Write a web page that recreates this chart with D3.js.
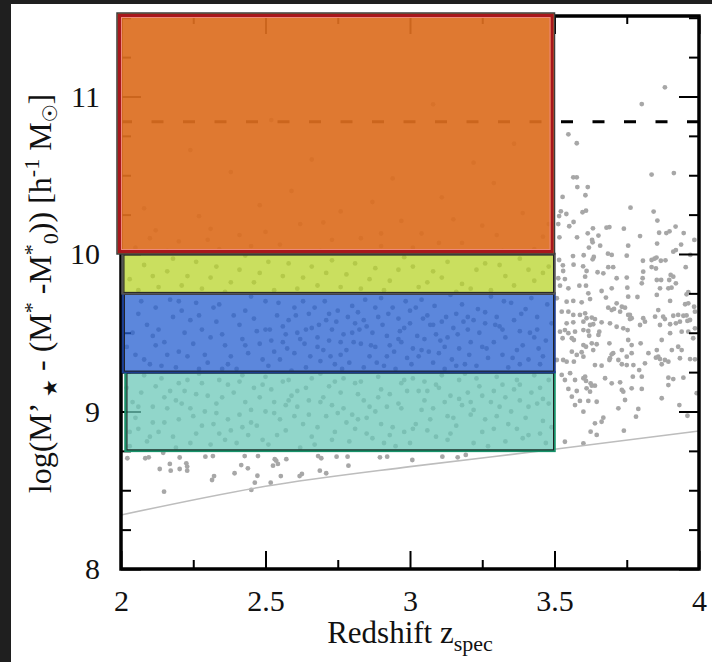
<!DOCTYPE html>
<html><head><meta charset="utf-8">
<script src="https://cdn.jsdelivr.net/npm/d3@7"></script>
<style>html,body{margin:0;padding:0;background:#1f1f1f;} svg{display:block}</style>
</head><body>
<svg id="c" width="712" height="662"></svg>
<script>
// ---------- data ----------
const xDomain = [2, 4];
const yDomain = [8, 11.511];
const xMajorTicks = [2, 2.5, 3, 3.5, 4];
const xTickLabels = ["2", "2.5", "3", "3.5", "4"];
const xMinorTicks = [2.25, 2.75, 3.25, 3.75];
const yMajorTicks = [8, 9, 10, 11];
const yTickLabels = ["8", "9", "10", "11"];
const yMinorTicks = [8.25, 8.5, 8.75, 9.25, 9.5, 9.75, 10.25, 10.5, 10.75, 11.25, 11.5];

// mass bins (z range common)
const binZ = [2, 3.5];
const binLo = [8.75, 9.25, 9.75, 10.0];
const binHi = [9.25, 9.75, 10.0, 11.53];

// characteristic mass (dashed) and completeness limit curve
const dashedLevel = 10.84;
const limitZ = [2, 2.5, 3, 3.5, 4];
const limitM = [8.343, 8.525, 8.65, 8.76, 8.876];

// galaxies visible outside the boxes
const galaxiesOutside = [
[3.882,11.058],[3.802,10.952],[3.548,10.76],[3.577,10.703],[3.565,10.487],[3.577,10.487],[3.836,10.504],[3.913,10.514],[3.579,10.425],[3.615,10.425],[3.528,10.362],[3.607,10.373],[3.763,10.294],[3.522,10.271],[3.516,10.241],[3.541,10.254],[3.597,10.265],[3.609,10.275],[3.843,10.269],[3.856,10.212],[3.513,10.19],[3.551,10.176],[3.566,10.203],[3.633,10.163],[3.680,10.167],[3.690,10.171],[3.740,10.161],[3.919,10.174],[3.517,10.106],[3.578,10.106],[3.615,10.131],[3.652,10.117],[3.630,10.089],[3.632,10.074],[3.796,10.114],[3.862,10.135],[3.887,10.133],[3.898,10.144],[3.947,10.133],[3.984,10.089],[3.658,10.053],[3.755,10.053],[3.855,10.066],[3.938,10.06],[3.619,10.041],[3.911,10.015],[3.920,10.025],[3.564,9.987],[3.601,9.992],[3.636,9.981],[3.632,9.966],[3.685,10.002],[3.698,9.994],[3.750,9.989],[3.806,9.957],[3.836,9.962],[3.846,9.970],[3.853,9.977],[3.868,9.957],[3.884,9.960],[3.970,9.994],[3.516,9.962],[3.529,9.928],[3.566,9.932],[3.599,9.922],[3.686,9.916],[3.703,9.916],[3.954,9.916],
[3.836,9.917],[3.851,9.908],[3.530,9.892],[3.611,9.892],[3.649,9.884],[3.669,9.877],[3.807,9.888],[3.911,9.856],[3.902,9.867],[3.513,9.846],[3.536,9.841],[3.606,9.856],[3.715,9.846],[3.750,9.850],[3.805,9.846],[3.854,9.835],[3.869,9.835],[3.897,9.835],[3.920,9.814],[3.894,9.782],[3.905,9.786],[3.519,9.799],[3.548,9.782],[3.586,9.799],[3.609,9.799],[3.617,9.750],[3.623,9.714],[3.663,9.765],[3.698,9.782],[3.752,9.786],[3.802,9.814],[3.755,9.729],[3.787,9.727],[3.854,9.740],[3.865,9.782],[3.963,9.757],[3.957,9.744],
[3.508,9.719],[3.542,9.697],[3.565,9.702],[3.594,9.693],[3.678,9.723],[3.715,9.687],[3.733,9.665],[3.744,9.659],[3.761,9.613],[3.767,9.592],[3.807,9.592],[3.859,9.644],[3.900,9.702],[3.952,9.681],[3.963,9.687],[3.983,9.665],[3.525,9.634],[3.548,9.634],[3.565,9.613],[3.588,9.613],[3.606,9.623],[3.629,9.596],[3.640,9.587],[3.686,9.659],[3.698,9.644],[3.706,9.651],[3.727,9.634],[3.755,9.613],[3.761,9.587],[3.848,9.602],[3.876,9.602],[3.882,9.587],[3.911,9.608],[3.928,9.613],[3.946,9.608],[3.957,9.610],[3.969,9.581],[3.986,9.634],
[3.542,9.560],[3.565,9.566],[3.600,9.570],[3.611,9.592],[3.623,9.549],[3.634,9.554],[3.663,9.566],[3.692,9.560],[3.715,9.538],[3.738,9.528],[3.753,9.517],[3.796,9.549],[3.813,9.570],[3.865,9.549],[3.900,9.554],[3.920,9.560],[3.934,9.570],[3.960,9.575],[3.963,9.507],[3.986,9.528],[3.519,9.507],[3.536,9.517],[3.548,9.497],[3.571,9.507],[3.600,9.517],[3.617,9.511],[3.620,9.481],[3.652,9.486],[3.655,9.507],[3.755,9.454],[3.767,9.422],[3.798,9.433],[3.871,9.454],[3.900,9.497],[3.940,9.507],
[3.528,9.465],[3.560,9.465],[3.567,9.454],[3.600,9.422],[3.609,9.411],[3.629,9.433],[3.634,9.390],[3.646,9.427],[3.690,9.433],[3.703,9.370],[3.733,9.390],[3.750,9.348],[3.767,9.370],[3.825,9.370],[3.854,9.390],[3.859,9.348],[3.882,9.327],[3.906,9.390],[3.928,9.411],[3.940,9.390],[3.980,9.465],[3.560,9.380],[3.577,9.359],[3.594,9.376],[3.600,9.348],[3.698,9.363],[3.692,9.338],[3.721,9.327],[3.733,9.300],[3.750,9.295],[3.793,9.263],[3.813,9.306],[3.851,9.342],[3.865,9.333],[3.871,9.300],[3.894,9.316],[3.934,9.338],[3.969,9.333],[3.986,9.331],
[3.508,9.327],[3.530,9.327],[3.542,9.316],[3.567,9.316],[3.640,9.295],[3.663,9.291],[3.690,9.327],[3.773,9.295],[3.525,9.232],[3.536,9.200],[3.554,9.243],[3.571,9.200],[3.600,9.211],[3.606,9.221],[3.609,9.194],[3.625,9.179],[3.640,9.164],[3.675,9.211],[3.698,9.179],[3.727,9.185],[3.733,9.137],[3.738,9.126],[3.744,9.073],[3.767,9.147],[3.771,9.221],[3.802,9.143],[3.802,9.221],[3.894,9.215],[3.911,9.206],[3.894,9.168],[3.946,9.215],[3.548,9.143],[3.577,9.130],[3.611,9.147],[3.623,9.126],[3.629,9.164],
[3.560,9.094],[3.588,9.067],[3.600,8.999],[3.571,9.041],[3.617,9.067],[3.646,9.062],[3.721,9.020],[3.790,9.016],[3.782,8.967],[3.669,8.961],[3.663,8.935],[3.640,8.925],[3.625,8.872],[3.646,8.851],[3.740,8.878],[3.871,9.084],[3.932,9.041],[3.960,8.973],[3.992,9.116],[3.536,8.808],[3.600,8.798],
[2.022,8.703],[2.084,8.703],[2.096,8.709],[2.146,8.738],[2.203,8.708],[2.292,8.713],[2.318,8.717],[2.428,8.717],[2.474,8.717],[2.532,8.697],[2.572,8.697],[2.682,8.717],[2.693,8.703],[2.746,8.713],[2.784,8.713],[2.787,8.656],[2.896,8.709],[2.921,8.713],[3.008,8.692],[3.112,8.713],[3.165,8.709],[3.193,8.724],
[2.134,8.635],[2.169,8.667],[2.172,8.624],[2.203,8.635],[2.226,8.671],[2.229,8.650],[2.229,8.624],[2.416,8.660],[2.439,8.639],[2.526,8.656],[2.543,8.667],[2.537,8.688],[2.688,8.624],[2.710,8.608],[2.626,8.603],[2.618,8.590],[2.553,8.590],[2.472,8.592],[2.393,8.608],[2.322,8.590],[2.315,8.565],[2.463,8.548],[2.518,8.548],[2.451,8.502],[2.149,8.491]
];

// galaxies seen through the translucent boxes (estimated)
const galaxiesInside = [
[2.03,8.78],[2.07,9.12],[2.11,8.93],[2.14,9.21],[2.18,8.84],[2.21,9.05],[2.25,8.97],[2.28,9.18],[2.31,8.79],[2.35,9.09],[2.38,8.88],[2.42,9.23],[2.45,9.01],[2.49,8.82],[2.52,9.14],[2.55,8.95],[2.58,9.2],[2.62,8.77],[2.65,9.07],[2.68,8.9],[2.72,9.16],[2.75,8.99],[2.79,8.81],[2.82,9.11],[2.85,8.86],[2.89,9.22],[2.92,9.03],[2.95,8.78],[2.99,9.13],[3.02,8.92],[3.05,9.19],[3.09,8.84],[3.12,9.06],[3.15,8.96],[3.19,9.24],[3.22,8.8],[3.25,9.1],[3.29,8.89],[3.32,9.17],[3.35,9.0],[3.39,8.83],[3.42,9.12],[3.46,8.94],[3.48,9.2],
[2.05,8.96],[2.09,8.81],[2.12,9.16],[2.16,9.02],[2.19,8.77],[2.23,9.2],[2.26,8.86],[2.3,9.1],[2.33,8.99],[2.37,9.17],[2.4,8.8],[2.43,9.06],[2.47,8.91],[2.5,9.22],[2.54,8.85],[2.57,9.04],[2.6,8.97],[2.64,9.15],[2.67,8.79],[2.7,9.09],[2.74,8.87],[2.77,9.21],[2.8,8.98],[2.84,9.07],[2.87,8.83],[2.9,9.14],[2.94,8.9],[2.97,9.18],[3.0,8.8],[3.04,9.01],[3.07,8.95],[3.11,9.23],[3.14,8.86],[3.17,9.08],[3.21,8.98],[3.24,9.16],[3.27,8.78],[3.31,9.03],[3.34,8.92],[3.37,9.2],[3.41,8.85],[3.44,9.05],[3.47,8.8],
[2.04,9.06],[2.08,9.23],[2.13,8.87],[2.17,9.13],[2.2,8.95],[2.24,8.8],[2.29,9.0],[2.34,9.2],[2.39,9.12],[2.44,8.85],[2.48,9.09],[2.53,8.99],[2.59,9.1],[2.63,8.92],[2.69,9.24],[2.73,9.04],[2.78,8.93],[2.83,9.19],[2.88,9.0],[2.93,9.11],[2.98,8.87],[3.03,9.13],[3.08,9.02],[3.13,8.82],[3.18,9.04],[3.23,9.21],[3.28,9.06],[3.33,8.81],[3.38,9.07],[3.43,9.23],[3.49,8.9],
[2.06,8.89],[2.15,8.93],[2.22,9.13],[2.27,9.24],[2.32,8.92],[2.36,8.82],[2.41,8.98],[2.46,9.15],[2.51,8.79],[2.56,9.19],[2.61,9.03],[2.66,8.84],[2.71,8.97],[2.76,9.12],[2.81,8.89],[2.86,9.03],[2.91,8.8],[2.96,9.05],[3.01,9.21],[3.06,8.88],[3.1,9.15],[3.16,8.91],[3.2,9.12],[3.26,8.95],[3.3,9.22],[3.36,9.14],[3.4,8.96],[3.45,9.15],
[2.02,9.15],[2.06,9.03],[2.1,8.84],[2.15,9.09],[2.2,9.18],[2.24,9.02],[2.28,8.91],[2.33,9.05],[2.37,8.95],[2.41,9.19],[2.45,8.93],[2.49,9.17],[2.53,9.06],[2.57,8.88],[2.61,9.13],[2.65,8.98],[2.69,9.06],[2.73,8.82],[2.77,9.02],[2.81,9.18],[2.85,8.96],[2.89,9.09],[2.93,8.85],[2.97,9.02],[3.01,8.89],[3.05,9.07],[3.09,9.17],[3.13,8.97],[3.17,9.2],[3.21,9.06],[3.25,8.87],[3.29,9.13],[3.33,9.09],[3.37,8.89],[3.41,9.03],[3.45,8.86],[3.48,9.05],
[2.03,8.87],[2.11,9.03],[2.19,9.07],[2.26,9.11],[2.34,8.86],[2.42,8.9],[2.5,9.0],[2.58,9.07],[2.66,9.21],[2.74,9.19],[2.82,8.95],[2.9,8.92],[2.98,9.2],[3.06,9.13],[3.14,9.1],[3.22,9.01],[3.3,8.97],[3.38,9.17],[3.46,9.08],
[2.02,9.41],[2.06,9.62],[2.1,9.3],[2.13,9.52],[2.17,9.71],[2.2,9.38],[2.24,9.58],[2.27,9.27],[2.31,9.47],[2.34,9.68],[2.38,9.35],[2.41,9.55],[2.45,9.73],[2.48,9.43],[2.51,9.29],[2.54,9.61],[2.57,9.49],[2.6,9.37],[2.63,9.7],[2.66,9.53],[2.69,9.32],[2.72,9.45],[2.75,9.64],[2.78,9.39],[2.81,9.56],[2.84,9.28],[2.87,9.5],[2.9,9.72],[2.93,9.42],[2.96,9.59],[2.99,9.34],[3.02,9.66],[3.05,9.46],[3.08,9.31],[3.11,9.57],[3.14,9.74],[3.17,9.4],[3.2,9.52],[3.23,9.29],[3.26,9.63],[3.29,9.44],[3.32,9.36],[3.35,9.69],[3.38,9.51],[3.41,9.33],[3.44,9.6],[3.47,9.45],
[2.04,9.5],[2.08,9.33],[2.12,9.66],[2.15,9.44],[2.19,9.28],[2.22,9.5],[2.26,9.69],[2.29,9.36],[2.33,9.57],[2.36,9.42],[2.4,9.27],[2.43,9.64],[2.47,9.51],[2.5,9.7],[2.53,9.38],[2.56,9.54],[2.59,9.26],[2.62,9.46],[2.65,9.62],[2.68,9.41],[2.71,9.58],[2.74,9.3],[2.77,9.49],[2.8,9.67],[2.83,9.43],[2.86,9.35],[2.89,9.6],[2.92,9.48],[2.95,9.27],[2.98,9.53],[3.01,9.4],[3.04,9.71],[3.07,9.55],[3.1,9.37],[3.13,9.47],[3.16,9.62],[3.19,9.3],[3.22,9.58],[3.25,9.41],[3.28,9.73],[3.31,9.54],[3.34,9.28],[3.37,9.39],[3.4,9.65],[3.43,9.47],[3.46,9.35],[3.49,9.56],
[2.52,9.45],[2.55,9.33],[2.58,9.58],[2.61,9.5],[2.64,9.28],[2.67,9.66],[2.7,9.39],[2.73,9.52],[2.76,9.44],[2.79,9.31],[2.82,9.63],[2.85,9.54],[2.88,9.41],[2.91,9.29],[2.94,9.66],[2.97,9.44],[3.0,9.56],[3.03,9.35],[3.06,9.61],[3.09,9.49],[3.12,9.27],[3.15,9.53],[3.18,9.68],[3.21,9.44],[2.44,9.37],[2.39,9.61],[2.35,9.49],[2.3,9.31],[2.25,9.43],[2.21,9.64],[2.16,9.36],[2.11,9.48],[2.07,9.7],[3.24,9.5],[3.27,9.34],[3.3,9.6],[3.33,9.47],[3.36,9.58],[3.39,9.42],[3.42,9.72],[3.45,9.3],
[2.09,9.55],[2.14,9.29],[2.18,9.6],[2.23,9.35],[2.28,9.52],[2.32,9.66],[2.37,9.3],[2.42,9.46],[2.46,9.59],[2.49,9.33],[2.515,9.52],[2.545,9.69],[2.575,9.4],[2.605,9.61],[2.635,9.43],[2.655,9.35],[2.685,9.55],[2.705,9.7],[2.725,9.35],[2.745,9.57],[2.765,9.27],[2.785,9.6],[2.805,9.44],[2.825,9.52],[2.845,9.71],[2.865,9.42],[2.885,9.31],[2.905,9.55],[2.925,9.62],[2.945,9.38],[2.965,9.51],[2.985,9.7],[3.005,9.3],[3.025,9.48],[3.045,9.59],[3.065,9.38],[3.085,9.67],[3.105,9.45],[3.125,9.6],[3.145,9.33],[3.165,9.49],[3.185,9.57],[3.205,9.36],[3.235,9.65],[3.265,9.4],[3.295,9.55],[3.325,9.7],[3.355,9.34],[3.385,9.62],[3.415,9.5],[3.445,9.4],[3.475,9.68],
[2.05,9.36],[2.12,9.42],[2.2,9.7],[2.27,9.61],[2.35,9.27],[2.43,9.42],[2.5,9.52],[2.56,9.44],[2.6,9.66],[2.64,9.52],[2.68,9.47],[2.72,9.62],[2.76,9.36],[2.8,9.5],[2.84,9.58],[2.88,9.66],[2.92,9.35],[2.96,9.46],[3.0,9.64],[3.04,9.39],[3.08,9.55],[3.12,9.41],[3.16,9.29],[3.2,9.6],[3.26,9.56],[3.32,9.52],[3.38,9.3],[3.44,9.52],
[2.03,9.84],[2.08,9.93],[2.13,9.79],[2.18,9.97],[2.23,9.86],[2.28,9.78],[2.33,9.92],[2.38,9.82],[2.43,9.99],[2.48,9.88],[2.53,9.77],[2.58,9.94],[2.63,9.85],[2.68,9.8],[2.73,9.96],[2.78,9.87],[2.83,9.78],[2.88,9.91],[2.93,9.83],[2.98,9.98],[3.03,9.79],[3.08,9.89],[3.13,9.95],[3.18,9.81],[3.23,9.9],[3.28,9.77],[3.33,9.86],[3.38,9.97],[3.43,9.83],[3.48,9.92],[2.06,9.77],[2.16,9.89],[2.26,9.95],[2.36,9.76],[2.46,9.82],[2.56,9.86],[2.66,9.92],[2.76,9.79],[2.86,9.84],[2.96,9.9],[3.06,9.82],[3.16,9.76],[3.26,9.94],[3.36,9.8],[3.46,9.88],
[2.11,9.86],[2.21,9.8],[2.31,9.85],[2.41,9.9],[2.51,9.95],[2.61,9.78],[2.71,9.88],[2.81,9.94],[2.91,9.77],[3.01,9.92],[3.11,9.85],[3.21,9.78],[3.31,9.93],[3.41,9.9],
[2.05,10.04],[2.12,10.15],[2.2,10.08],[2.27,10.24],[2.34,10.03],[2.41,10.12],[2.48,10.31],[2.55,10.06],[2.62,10.19],[2.69,10.02],[2.76,10.27],[2.83,10.1],[2.9,10.05],[2.97,10.21],[3.04,10.13],[3.11,10.36],[3.18,10.07],[3.25,10.18],[3.32,10.02],[3.39,10.26],[3.46,10.11],[2.08,10.29],[2.16,10.02],[2.31,10.16],[2.45,10.05],[2.59,10.4],[2.73,10.09],[2.87,10.33],[3.01,10.04],[3.15,10.22],[3.29,10.45],[3.43,10.03],[2.38,10.52],[2.66,10.6],[2.94,10.48],[3.22,10.58],[3.36,10.7],[2.52,10.85],[3.08,10.95],[2.24,10.66],
[2.1,10.1],[2.3,10.09],[2.5,10.14],[2.7,10.2],[2.9,10.13],[3.1,10.07],[3.3,10.12],[3.48,10.19]
];

// ---------- styles ----------
const binFill = ["#6cc8b8", "#255fd0", "#b8d42a", "#dc6e1f"];
const binOpacity = [0.75, 0.75, 0.75, 0.92];
const binStroke = ["#17926a", "#1c3d8f", "#555555", "#a8171c"];
const serif = "'Liberation Serif','Times New Roman',Times,'DejaVu Serif',serif";

// ---------- drawing ----------
const W = 712, H = 662;
const svg = d3.select("#c");
const x = d3.scaleLinear().domain(xDomain).range([121, 699]);
const y = d3.scaleLinear().domain(yDomain).range([569, 16]);
const pBottom = 569, pTop = 16, pLeft = 121, pRight = 699;

svg.append("rect").attr("width", W).attr("height", H).attr("fill", "#1f1f1f");
svg.append("rect").attr("x", 11).attr("y", 4).attr("width", W - 11).attr("height", H - 4).attr("fill", "#ffffff");

// points
svg.append("g").selectAll("circle").data(galaxiesOutside.concat(galaxiesInside)).join("circle")
  .attr("cx", d => x(d[0])).attr("cy", d => y(d[1])).attr("r", 2.4).attr("fill", "#a7a7a7");

// completeness curve
svg.append("path")
  .datum(limitZ.map((z, i) => [z, limitM[i]]))
  .attr("d", d3.line().x(d => x(d[0])).y(d => y(d[1])).curve(d3.curveMonotoneX))
  .attr("fill", "none").attr("stroke", "#bdbdbd").attr("stroke-width", 1.6);

// dashed level
svg.append("line")
  .attr("x1", x(xDomain[0])).attr("x2", x(xDomain[1]))
  .attr("y1", y(dashedLevel)).attr("y2", y(dashedLevel))
  .attr("stroke", "#000").attr("stroke-width", 3).attr("stroke-dasharray", "12,19.5").attr("stroke-dashoffset", 1);

// axes
function styleAxis(g) {
  g.select(".domain").remove();
  g.selectAll(".tick line").attr("stroke", "#000").attr("stroke-width", 2);
  g.selectAll(".tick text").attr("font-family", serif).attr("font-size", 30).attr("fill", "#111");
}
svg.append("g").attr("transform", `translate(0,${pBottom})`)
  .call(d3.axisBottom(x).tickValues(xMajorTicks).tickSize(-18).tickPadding(21).tickFormat((d, i) => xTickLabels[i])).call(styleAxis);
svg.append("g").attr("transform", `translate(0,${pBottom})`)
  .call(d3.axisBottom(x).tickValues(xMinorTicks).tickSize(-9).tickFormat("")).call(styleAxis);
svg.append("g").attr("transform", `translate(0,${pTop})`)
  .call(d3.axisTop(x).tickValues(xMajorTicks).tickSize(-18).tickFormat("")).call(styleAxis);
svg.append("g").attr("transform", `translate(0,${pTop})`)
  .call(d3.axisTop(x).tickValues(xMinorTicks).tickSize(-8).tickFormat("")).call(styleAxis);
svg.append("g").attr("transform", `translate(${pLeft},0)`)
  .call(d3.axisLeft(y).tickValues(yMajorTicks).tickSize(-20).tickPadding(21).tickFormat((d, i) => yTickLabels[i])).call(styleAxis);
svg.append("g").attr("transform", `translate(${pLeft},0)`)
  .call(d3.axisLeft(y).tickValues(yMinorTicks).tickSize(-10).tickFormat("")).call(styleAxis);
svg.append("g").attr("transform", `translate(${pRight},0)`)
  .call(d3.axisRight(y).tickValues(yMajorTicks).tickSize(-20).tickFormat("")).call(styleAxis);
svg.append("g").attr("transform", `translate(${pRight},0)`)
  .call(d3.axisRight(y).tickValues(yMinorTicks).tickSize(-10).tickFormat("")).call(styleAxis);

// frame
svg.append("rect").attr("x", pLeft).attr("y", pTop).attr("width", pRight - pLeft).attr("height", pBottom - pTop)
  .attr("fill", "none").attr("stroke", "#000").attr("stroke-width", 3.5);

// mass-bin boxes (bottom to top)
const inset = [4.5, 2, 1.5, -4];
const boxes = svg.append("g");
binLo.forEach((lo, i) => {
  const x0 = x(binZ[0]) + inset[i], x1 = x(binZ[1]);
  const y0 = y(binHi[i]), y1 = y(lo);
  boxes.append("rect").attr("x", x0).attr("y", y0).attr("width", x1 - x0).attr("height", y1 - y0)
    .attr("fill", binFill[i]).attr("fill-opacity", binOpacity[i]);
  if (i === 3) {
    boxes.append("rect").attr("x", x0 + 2.5).attr("y", y0 + 2.5).attr("width", x1 - x0 - 5).attr("height", y1 - y0 - 5)
      .attr("fill", "none").attr("stroke", binStroke[i]).attr("stroke-width", 3);
    boxes.append("rect").attr("x", x0 + 4.5).attr("y", y0 + 4.5).attr("width", x1 - x0 - 9).attr("height", y1 - y0 - 9)
      .attr("fill", "none").attr("stroke", "#ee8a7a").attr("stroke-width", 1);
    boxes.append("rect").attr("x", x0).attr("y", y0).attr("width", x1 - x0).attr("height", y1 - y0)
      .attr("fill", "none").attr("stroke", "#3c3c3c").attr("stroke-width", 1.5);
  } else {
    boxes.append("rect").attr("x", x0).attr("y", y0).attr("width", x1 - x0).attr("height", y1 - y0)
      .attr("fill", "none").attr("stroke", binStroke[i]).attr("stroke-width", 2.5);
    boxes.append("rect").attr("x", x0 + 1.5).attr("y", y0 + 1).attr("width", x1 - x0 - 2.5).attr("height", y1 - y0 - 2)
      .attr("fill", "none").attr("stroke", "#222").attr("stroke-width", 1);
  }
});

// axis titles
const xt = svg.append("text").attr("x", (pLeft + pRight) / 2).attr("y", 643).attr("text-anchor", "middle")
  .attr("font-family", serif).attr("font-size", 31).attr("fill", "#111");
xt.append("tspan").text("Redshift z");
xt.append("tspan").text("spec").attr("font-size", 22).attr("dy", 8);

const yt = svg.append("text").attr("transform", `translate(51,${(pTop + pBottom) / 2 + 1}) rotate(-90)`)
  .attr("text-anchor", "middle").attr("font-family", serif).attr("font-size", 32).attr("fill", "#111");
yt.append("tspan").text("log(M’ ");
yt.append("tspan").text("★").attr("font-size", 20).attr("dy", 6).attr("font-family", "'DejaVu Sans',sans-serif");
yt.append("tspan").text(" - (M").attr("dy", -6);
yt.append("tspan").text("*").attr("font-size", 22).attr("dy", -12);
yt.append("tspan").text(" -M").attr("dy", 12);
yt.append("tspan").text("*").attr("font-size", 22).attr("dy", -12);
yt.append("tspan").text("0").attr("font-size", 22).attr("dy", 19);
yt.append("tspan").text(")) [h").attr("dy", -7);
yt.append("tspan").text("-1").attr("font-size", 22).attr("dy", -12);
yt.append("tspan").text(" M").attr("dy", 12);
yt.append("tspan").text("☉").attr("font-size", 20).attr("dy", 6).attr("font-family", "'DejaVu Sans',sans-serif");
yt.append("tspan").text("]").attr("dy", -6);
</script>
</body></html>
